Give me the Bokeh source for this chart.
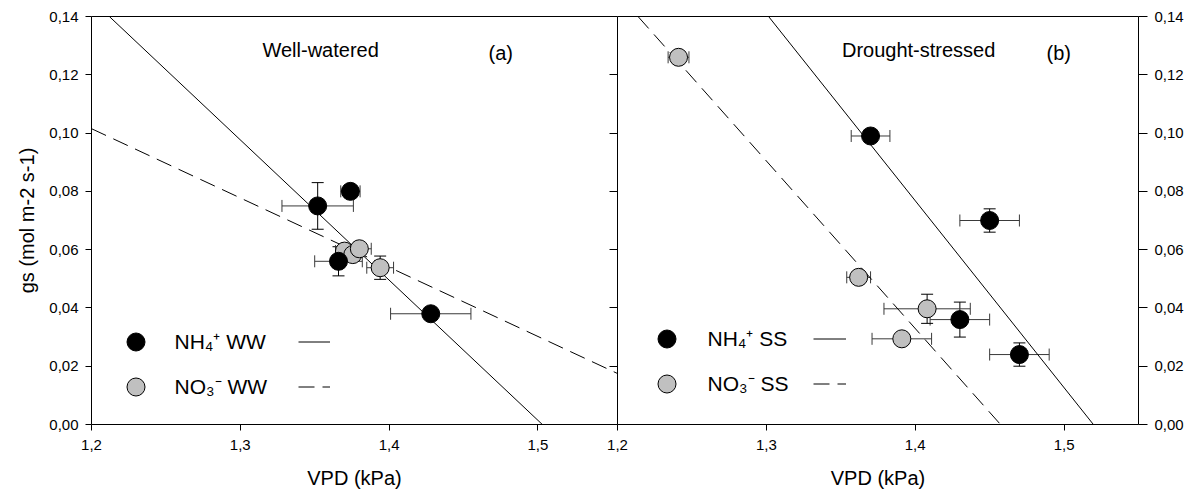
from bokeh.plotting import figure
from bokeh.layouts import row
from bokeh.models import (Range1d, LinearAxis, FixedTicker, CustomJSTickFormatter, Whisker,
                          TeeHead, ColumnDataSource, Label, Legend, LegendItem)
from bokeh.embed import file_html
from bokeh.resources import INLINE

# ---------------- data ----------------
x_ticks = [1.2, 1.3, 1.4, 1.5]
y_ticks = [0.0, 0.02, 0.04, 0.06, 0.08, 0.10, 0.12, 0.14]

# Well-watered (a)
ww_nh4_x = [1.352, 1.374, 1.366, 1.428]
ww_nh4_y = [0.075, 0.080, 0.056, 0.038]
ww_nh4_xerr = [0.024, 0.0065, 0.016, 0.027]
ww_nh4_yerr = [0.008, 0.001, 0.005, 0.002]

ww_no3_x = [1.370, 1.3756, 1.380, 1.394]
ww_no3_y = [0.0595, 0.0583, 0.0603, 0.0538]
ww_no3_xerr = [0.006, 0.004, 0.008, 0.009]
ww_no3_yerr = [0.002, 0.002, 0.002, 0.004]

# Drought-stressed (b)
ss_nh4_x = [1.370, 1.450, 1.430, 1.470]
ss_nh4_y = [0.099, 0.070, 0.036, 0.024]
ss_nh4_xerr = [0.013, 0.020, 0.020, 0.020]
ss_nh4_yerr = [0.002, 0.004, 0.006, 0.004]

ss_no3_x = [1.241, 1.362, 1.408, 1.391]
ss_no3_y = [0.126, 0.0505, 0.0397, 0.0294]
ss_no3_xerr = [0.007, 0.008, 0.029, 0.020]
ss_no3_yerr = [0.001, 0.001, 0.005, 0.001]

# regression lines (end points)
ww_nh4_fit_x = [1.212, 1.503]
ww_nh4_fit_y = [0.14, 0.0]
ww_no3_fit_x = [1.2, 1.5535]
ww_no3_fit_y = [0.1015, 0.0175]
ss_nh4_fit_x = [1.3015, 1.5197]
ss_nh4_fit_y = [0.14, 0.0]
ss_no3_fit_x = [1.2138, 1.4573]
ss_no3_fit_y = [0.14, 0.0]

FONT = "Liberation Sans"
GREY = "#c0c0c0"
ERR = "#3a3a3a"
DASH = "16 8"

xfmt = CustomJSTickFormatter(code="return tick.toFixed(1).replace('.', ',');")
yfmt = CustomJSTickFormatter(code="return tick.toFixed(2).replace('.', ',');")


def style_axis(ax, tick_out=6, standoff=7, labels=True):
    ax.axis_line_color = "black"
    ax.axis_line_width = 1
    ax.major_tick_line_color = "black"
    ax.minor_tick_line_color = None
    ax.major_tick_out = tick_out
    ax.major_tick_in = 0
    ax.major_label_text_font = FONT
    ax.major_label_text_font_size = "15px" if labels else "0px"
    ax.major_label_text_color = "black"
    ax.major_label_standoff = standoff
    ax.axis_label_text_font = FONT
    ax.axis_label_text_font_size = "20px"
    ax.axis_label_text_font_style = "normal"
    ax.axis_label_text_color = "black"


def make_panel(width, x_end, min_left, min_right, margin):
    f = figure(width=width, height=500,
               x_range=Range1d(1.2, x_end), y_range=Range1d(0, 0.14),
               x_axis_type=None, y_axis_type=None,
               output_backend="svg", toolbar_location=None,
               min_border_left=min_left, min_border_right=min_right,
               min_border_top=16, min_border_bottom=76, margin=margin)
    f.outline_line_color = None
    f.background_fill_color = "white"
    xb = LinearAxis(ticker=FixedTicker(ticks=x_ticks), formatter=xfmt, axis_label="VPD (kPa)")
    style_axis(xb, 6, 9)
    xb.axis_label_standoff = 14
    f.add_layout(xb, "below")
    top = LinearAxis(ticker=FixedTicker(ticks=[]))
    style_axis(top, 0, 0, labels=False)
    f.add_layout(top, "above")
    return f


# ---- panel (a) ----
pa = make_panel(617, 1.5535, 91, 0, (0, 0, 0, 0))
pa.border_fill_color = "white"
ya = LinearAxis(ticker=FixedTicker(ticks=y_ticks), formatter=yfmt,
                axis_label="gs (mol m-2 s-1)")
style_axis(ya, 6, 7)
ya.axis_label_standoff = 8
pa.add_layout(ya, "left")

# ---- panel (b) ----
pb = make_panel(595, 1.55, 17, 57, (0, 0, 0, -17))
pb.border_fill_alpha = 0
ydiv = LinearAxis(ticker=FixedTicker(ticks=y_ticks),
                  formatter=CustomJSTickFormatter(code="return '';"))
style_axis(ydiv, 8, 0, labels=False)
pb.add_layout(ydiv, "left")
yb = LinearAxis(ticker=FixedTicker(ticks=y_ticks), formatter=yfmt)
style_axis(yb, 9, 7)
pb.add_layout(yb, "right")


def errbars(f, xs, ys, xe, ye):
    src = ColumnDataSource(dict(
        x=xs, y=ys,
        xlo=[a - e for a, e in zip(xs, xe)], xhi=[a + e for a, e in zip(xs, xe)],
        ylo=[a - e for a, e in zip(ys, ye)], yhi=[a + e for a, e in zip(ys, ye)]))
    wx = Whisker(source=src, base="y", lower="xlo", upper="xhi", dimension="width",
                 line_color=ERR, line_width=1,
                 upper_head=TeeHead(size=12, line_color=ERR, line_width=1),
                 lower_head=TeeHead(size=12, line_color=ERR, line_width=1))
    wy = Whisker(source=src, base="x", lower="ylo", upper="yhi", dimension="height",
                 line_color="black", line_width=1,
                 upper_head=TeeHead(size=12, line_color="black", line_width=1),
                 lower_head=TeeHead(size=12, line_color="black", line_width=1))
    f.add_layout(wx)
    f.add_layout(wy)


errbars(pa, ww_nh4_x, ww_nh4_y, ww_nh4_xerr, ww_nh4_yerr)
errbars(pa, ww_no3_x, ww_no3_y, ww_no3_xerr, ww_no3_yerr)
errbars(pb, ss_nh4_x, ss_nh4_y, ss_nh4_xerr, ss_nh4_yerr)
errbars(pb, ss_no3_x, ss_no3_y, ss_no3_xerr, ss_no3_yerr)

l_ww_nh4 = pa.line(ww_nh4_fit_x, ww_nh4_fit_y, line_color="black", line_width=1)
l_ww_no3 = pa.line(ww_no3_fit_x, ww_no3_fit_y, line_color="black", line_width=1,
                   line_dash=DASH)
l_ss_nh4 = pb.line(ss_nh4_fit_x, ss_nh4_fit_y, line_color="black", line_width=1)
l_ss_no3 = pb.line(ss_no3_fit_x, ss_no3_fit_y, line_color="black", line_width=1,
                   line_dash=DASH)

r_ww_no3 = pa.scatter(ww_no3_x, ww_no3_y, size=18, marker="circle",
                      fill_color=GREY, line_color="black", line_width=1)
r_ww_nh4 = pa.scatter(ww_nh4_x, ww_nh4_y, size=18, marker="circle",
                      fill_color="black", line_color="black", line_width=1)
r_ss_no3 = pb.scatter(ss_no3_x, ss_no3_y, size=18, marker="circle",
                      fill_color=GREY, line_color="black", line_width=1)
r_ss_nh4 = pb.scatter(ss_nh4_x, ss_nh4_y, size=18, marker="circle",
                      fill_color="black", line_color="black", line_width=1)


def legend(f, items, loc, gw, standoff):
    lg = Legend(items=items, location=loc, orientation="vertical",
                glyph_width=gw, glyph_height=45, spacing=-4, padding=0, margin=0,
                label_standoff=standoff, label_text_font=FONT, label_text_font_size="21px",
                label_text_color="black", border_line_color=None,
                background_fill_alpha=0, label_height=20)
    f.add_layout(lg)


legend(pa, [LegendItem(label="NH\u2084\u207a WW", renderers=[r_ww_nh4]),
            LegendItem(label="NO\u2083\u207b WW", renderers=[r_ww_no3])], (21.5, 15.5), 45, 17)
legend(pa, [LegendItem(label=" ", renderers=[l_ww_nh4]),
            LegendItem(label=" ", renderers=[l_ww_no3])], (207, 15.5), 32, 0)
legend(pb, [LegendItem(label="NH\u2084\u207a SS", renderers=[r_ss_nh4]),
            LegendItem(label="NO\u2083\u207b SS", renderers=[r_ss_no3])], (26.5, 18.5), 45, 19)
legend(pb, [LegendItem(label=" ", renderers=[l_ss_nh4]),
            LegendItem(label=" ", renderers=[l_ss_no3])], (196, 18.5), 33, 0)


def text(f, x, y, s):
    f.add_layout(Label(x=x, y=y, text=s, text_align="center",
                       text_baseline="middle", text_font=FONT, text_font_size="20px",
                       text_color="black"))


text(pa, 1.354, 0.1285, "Well-watered")
text(pa, 1.475, 0.1275, "(a)")
text(pb, 1.4023, 0.1285, "Drought-stressed")
text(pb, 1.4964, 0.1275, "(b)")

layout = row(pa, pb)
open("out.html", "w").write(file_html(layout, INLINE))
